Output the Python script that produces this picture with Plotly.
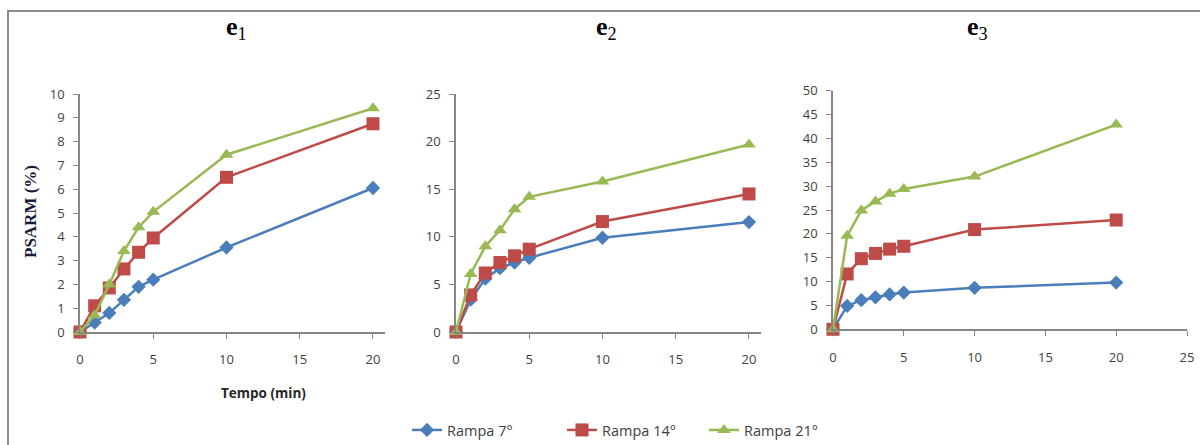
import plotly.graph_objects as go

tempo = [0, 1, 2, 3, 4, 5, 10, 20]

# Panel e1
e1_rampa7 = [0, 0.4, 0.8, 1.35, 1.9, 2.2, 3.55, 6.05]
e1_rampa14 = [0, 1.1, 1.85, 2.65, 3.35, 3.95, 6.5, 8.75]
e1_rampa21 = [0, 0.7, 2.0, 3.4, 4.4, 5.05, 7.45, 9.4]

# Panel e2
e2_rampa7 = [0, 3.4, 5.6, 6.7, 7.3, 7.8, 9.9, 11.55]
e2_rampa14 = [0, 3.9, 6.2, 7.3, 8.0, 8.7, 11.6, 14.5]
e2_rampa21 = [0, 6.1, 9.0, 10.7, 12.9, 14.2, 15.8, 19.7]

# Panel e3
e3_rampa7 = [0, 4.9, 6.1, 6.7, 7.3, 7.7, 8.7, 9.8]
e3_rampa14 = [0, 11.6, 14.8, 15.9, 16.8, 17.4, 20.9, 22.9]
e3_rampa21 = [0, 19.6, 24.9, 26.8, 28.4, 29.4, 32.0, 42.9]

series_names = ["Rampa 7°", "Rampa 14°", "Rampa 21°"]
colors = ["#4A7EBB", "#BE4B48", "#98B954"]
symbols = ["diamond", "square", "triangle-up"]
msizes = [11, 13, 12]

panels = [
    ("e", "1", [e1_rampa7, e1_rampa14, e1_rampa21], [0, 10], 1, [0, 20.82], 5),
    ("e", "2", [e2_rampa7, e2_rampa14, e2_rampa21], [0, 25], 5, [0, 20.82], 5),
    ("e", "3", [e3_rampa7, e3_rampa14, e3_rampa21], [0, 50], 5, [0, 25], 5),
]

W, H = 1200, 445
# pixel geometry of plot areas (left, right, bottom, top)
geo = [(80, 385, 332, 94), (456, 761, 332, 94), (833, 1187, 329.3, 90.7)]
legend_ids = ["legend", "legend2", "legend3"]
legend_px = [407, 562, 704]

fig = go.Figure()
axis_color = "#868686"
tick_font = dict(family="Open Sans, Liberation Sans, sans-serif", size=13, color="#404040")

for i, (t, sub, data, yr, ydt, xr, xdt) in enumerate(panels):
    xa = "x" if i == 0 else f"x{i+1}"
    ya = "y" if i == 0 else f"y{i+1}"
    for j, vals in enumerate(data):
        fig.add_trace(go.Scatter(
            x=tempo, y=vals, mode="lines+markers", name=series_names[j],
            line=dict(color=colors[j], width=2.5),
            marker=dict(symbol=symbols[j], size=msizes[j], color=colors[j]),
            xaxis=xa, yaxis=ya, showlegend=(i == 0), legendgroup=series_names[j],
            legend=legend_ids[j], cliponaxis=False,
        ))
    l, r, b, tp = geo[i]
    xkey = "xaxis" if i == 0 else f"xaxis{i+1}"
    ykey = "yaxis" if i == 0 else f"yaxis{i+1}"
    fig.update_layout(**{
        xkey: dict(domain=[l / W, r / W], range=xr, dtick=xdt, tick0=0,
                   showline=True, linecolor=axis_color, linewidth=1.5,
                   ticks="outside", ticklen=5, tickcolor=axis_color,
                   showgrid=False, zeroline=False, anchor=ya,
                   tickfont=tick_font, ticklabelstandoff=10, automargin=False),
        ykey: dict(domain=[(H - b) / H, (H - tp) / H], range=yr, dtick=ydt, tick0=0,
                   showline=True, linecolor=axis_color, linewidth=1.5,
                   ticks="outside", ticklen=5, tickcolor=axis_color,
                   showgrid=False, zeroline=False, anchor=xa,
                   tickfont=tick_font, ticklabelstandoff=6, automargin=False),
    })
    cx = [236, 606, 978][i]
    fig.add_annotation(
        x=cx / W, y=(H - 28) / H, xref="paper", yref="paper",
        text=f"<b>{t}</b><sub>{sub}</sub>", showarrow=False,
        font=dict(family="Liberation Serif, serif", size=26, color="#000000"),
        xanchor="center", yanchor="middle",
    )

fig.add_annotation(
    x=263 / W, y=(H - 393) / H, xref="paper", yref="paper",
    text="<b>Tempo (min)</b>", showarrow=False,
    font=dict(family="Open Sans, Liberation Sans, sans-serif", size=13.5, color="#262626"),
    xanchor="center", yanchor="middle",
)
fig.add_annotation(
    x=30 / W, y=(H - 212) / H, xref="paper", yref="paper",
    text="<b>PSARM (%)</b>", showarrow=False, textangle=-90,
    font=dict(family="Liberation Serif, serif", size=17, color="#1a1a3a"),
    xanchor="center", yanchor="middle",
)

# outer frame
fig.add_shape(type="rect", xref="paper", yref="paper",
              x0=8 / W, x1=1.02, y0=-0.02, y1=(H - 11) / H,
              line=dict(color="#8c8c8c", width=2))

leg_font = dict(family="Open Sans, Liberation Sans, sans-serif", size=14.5, color="#404040")
layout_legends = {}
for k, lid in enumerate(legend_ids):
    layout_legends[lid] = dict(
        orientation="h", x=legend_px[k] / W, y=(H - 430) / H,
        xanchor="left", yanchor="middle", font=leg_font, itemwidth=30,
        bgcolor="rgba(0,0,0,0)",
    )

fig.update_layout(
    width=W, height=H, margin=dict(l=0, r=0, t=0, b=0, autoexpand=False),
    paper_bgcolor="white", plot_bgcolor="white",
    showlegend=True,
    **layout_legends,
)

fig.write_html("out.html")
